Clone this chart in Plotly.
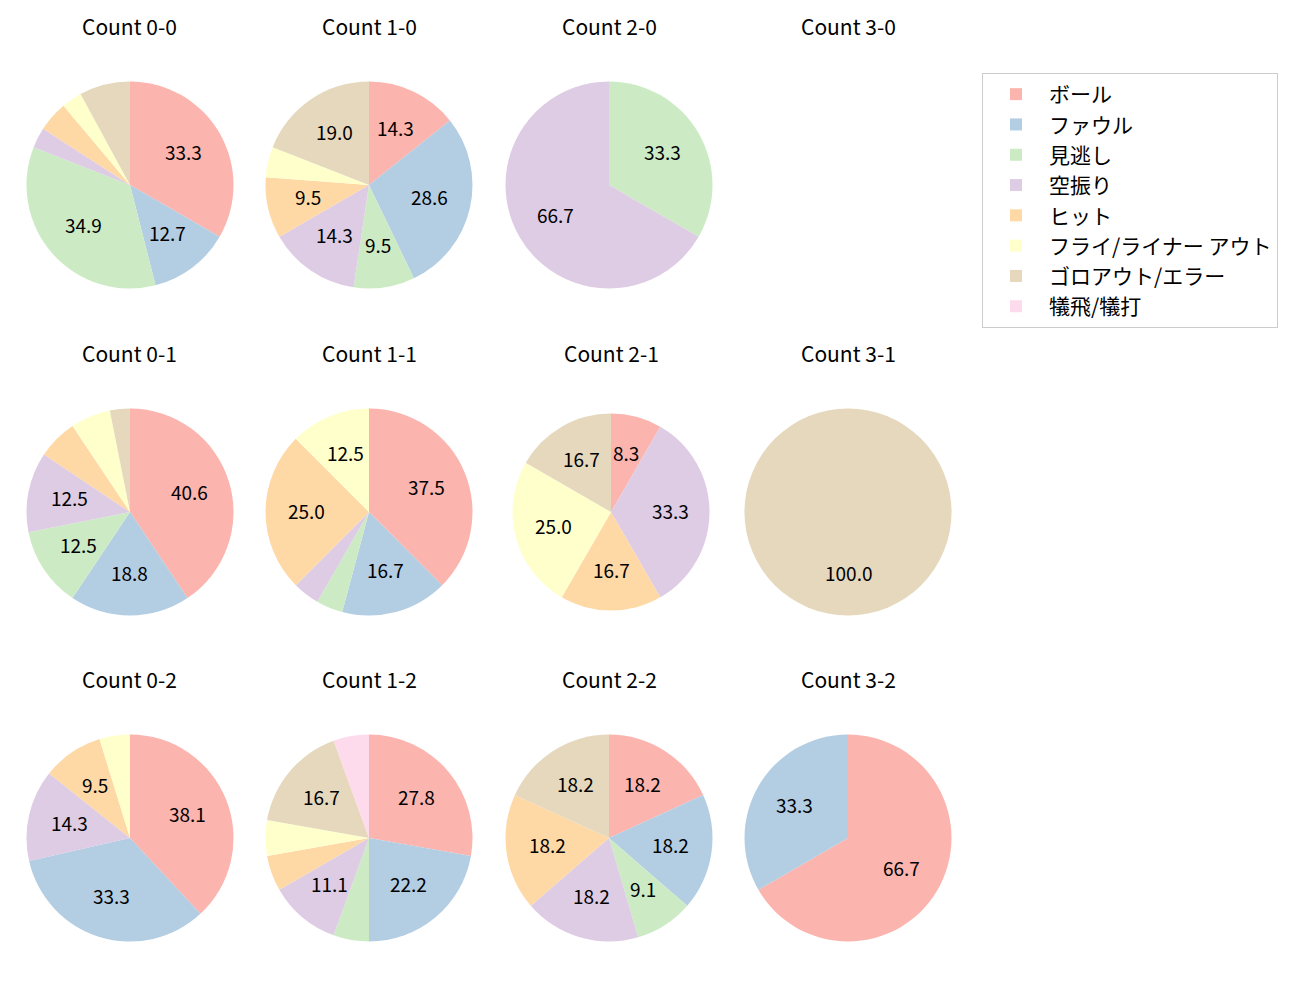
"""カウント別の結果割合：4x3 の円グラフ（matplotlib 風）。"""

import math

import plotly.graph_objects as go

# 結果カテゴリ
labels = ["ボール", "ファウル", "見逃し", "空振り", "ヒット",
          "フライ/ライナー アウト", "ゴロアウト/エラー", "犠飛/犠打"]

# カウント別の件数（labels の順）
count_0_0 = [21, 8, 22, 2, 3, 2, 5, 0]
count_1_0 = [3, 6, 2, 3, 2, 1, 4, 0]
count_2_0 = [0, 0, 1, 2, 0, 0, 0, 0]
count_3_0 = [0, 0, 0, 0, 0, 0, 0, 0]
count_0_1 = [13, 6, 4, 4, 2, 2, 1, 0]
count_1_1 = [9, 4, 1, 1, 6, 3, 0, 0]
count_2_1 = [1, 0, 0, 4, 2, 3, 2, 0]
count_3_1 = [0, 0, 0, 0, 0, 0, 1, 0]
count_0_2 = [8, 7, 0, 3, 2, 1, 0, 0]
count_1_2 = [5, 4, 1, 2, 1, 1, 3, 1]
count_2_2 = [2, 2, 1, 2, 2, 0, 2, 0]
count_3_2 = [2, 1, 0, 0, 0, 0, 0, 0]

panels = [
    ("Count 0-0", count_0_0), ("Count 1-0", count_1_0), ("Count 2-0", count_2_0), ("Count 3-0", count_3_0),
    ("Count 0-1", count_0_1), ("Count 1-1", count_1_1), ("Count 2-1", count_2_1), ("Count 3-1", count_3_1),
    ("Count 0-2", count_0_2), ("Count 1-2", count_1_2), ("Count 2-2", count_2_2), ("Count 3-2", count_3_2),
]

colors = ["#fbb4ae", "#b3cde3", "#ccebc5", "#decbe4",
          "#fed9a6", "#ffffcc", "#e5d8bd", "#fddaec"]

# ページ余白 8px ぶんを差し引いて配置
OFF = 8
W, H = 1300 - OFF, 1000 - OFF
FONT = "Noto Sans CJK JP"
COL_X = [130, 369, 609, 848]
ROW_Y = [185, 512, 838]
TITLE_DY = 159
LABEL_DY = -2
RADIUS = 103.5
MIN_PCT = 8.0


def px_x(x):
    return (x - OFF) / W


def px_y(y):
    return 1 - (y - OFF) / H


fig = go.Figure()
annotations = []
legend_done = False

for i, (title, vals) in enumerate(panels):
    cx, cy = COL_X[i % 4], ROW_Y[i // 4]
    r = RADIUS
    if title == "Count 2-1":
        cx, r = 611, 98.5

    annotations.append(dict(
        x=px_x(cx), y=px_y(cy - TITLE_DY), xref="paper", yref="paper",
        text=title, showarrow=False, xanchor="center", yanchor="middle",
        font=dict(family=FONT, size=21, color="#000"),
    ))

    total = sum(vals)
    if total == 0:
        continue

    fig.add_trace(go.Pie(
        labels=labels, values=vals, sort=False, direction="clockwise", rotation=0,
        marker=dict(colors=colors, line=dict(width=0)),
        textinfo="none", hoverinfo="label+percent",
        domain=dict(x=[px_x(cx - r), px_x(cx + r)], y=[px_y(cy + r), px_y(cy - r)]),
        showlegend=not legend_done,
    ))
    legend_done = True

    # 割合ラベル（matplotlib の pctdistance=0.6 と同じ位置）
    cum = 0
    for v in vals:
        if v == 0:
            continue
        pct = v / total * 100
        mid = math.radians(90 - 360 * (cum + v / 2) / total)
        cum += v
        if pct < MIN_PCT:
            continue
        annotations.append(dict(
            x=px_x(cx + 0.6 * r * math.cos(mid)),
            y=px_y(cy - 0.6 * r * math.sin(mid) + LABEL_DY),
            xref="paper", yref="paper",
            text=f"{pct:.1f}", showarrow=False, xanchor="center", yanchor="middle",
            font=dict(family=FONT, size=19, color="#000"),
        ))

fig.update_layout(
    width=W, height=H, margin=dict(l=0, r=0, t=0, b=0),
    paper_bgcolor="white", plot_bgcolor="white",
    font=dict(family=FONT, size=19, color="#000"),
    annotations=annotations,
    legend=dict(
        x=px_x(982), y=px_y(73), xanchor="left", yanchor="top",
        bordercolor="#cccccc", borderwidth=1, bgcolor="white",
        font=dict(family=FONT, size=21), itemwidth=56, traceorder="normal",
    ),
)

fig.write_html("out.html")
